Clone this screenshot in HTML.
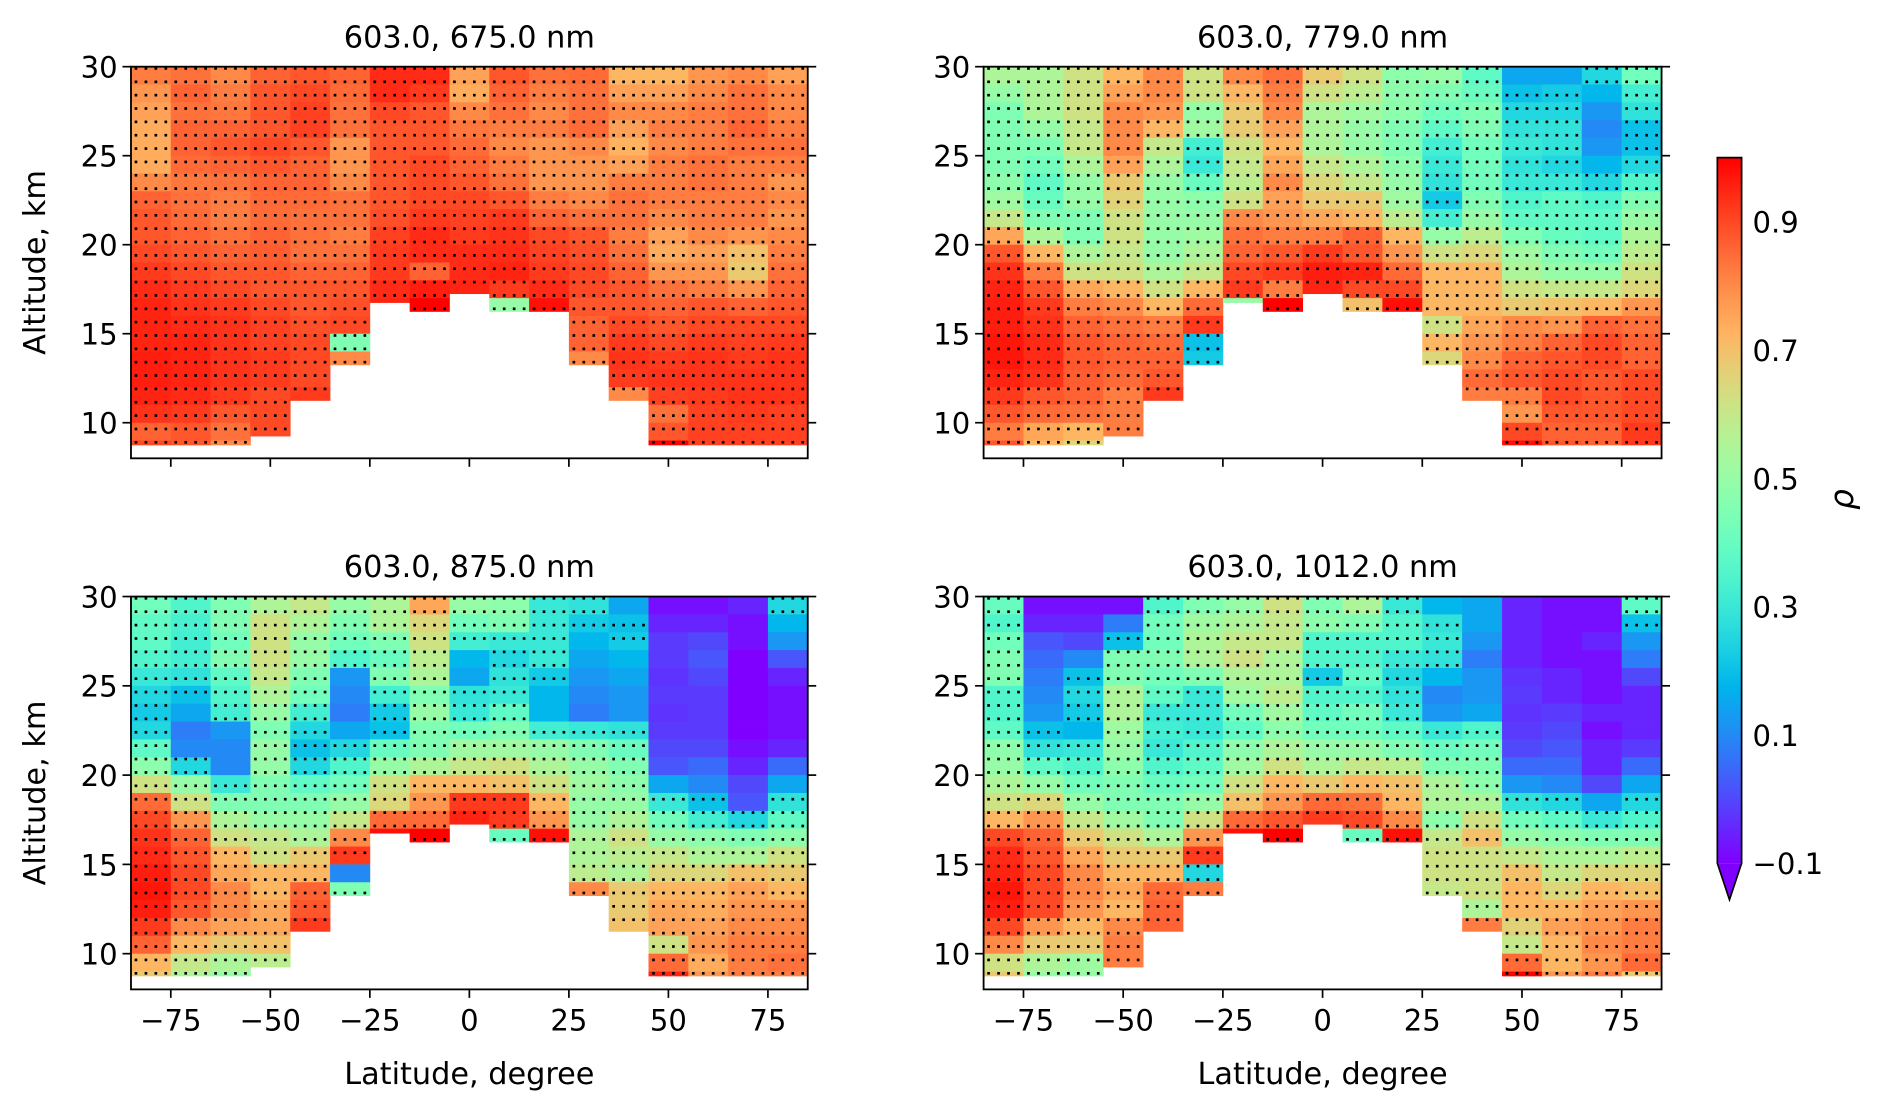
<!DOCTYPE html>
<html><head><meta charset="utf-8"><style>
html,body{margin:0;padding:0;background:#fff;}
svg{display:block;font-family:"DejaVu Sans","Liberation Sans",sans-serif;}
</style></head><body>
<svg id="fig" xmlns="http://www.w3.org/2000/svg" width="1892" height="1107" viewBox="0 0 1560 913" preserveAspectRatio="none">
<defs>
<linearGradient id="cbgrad" x1="0" y1="1" x2="0" y2="0"></linearGradient>
</defs>
<g id="layer"></g>
</svg>
<script>
// ---- data ----
const latitudes = [-80,-70,-60,-50,-40,-30,-20,-10,0,10,20,30,40,50,60,70,80];
const columnBottoms = [8.75,8.75,8.75,9.25,11.25,13.25,16.75,16.25,17.25,16.25,16.25,13.25,11.25,8.75,8.75,8.75,8.75];
const xTicks = [-75,-50,-25,0,25,50,75];
const yTicks = [10,15,20,25,30];
const cbTicks = [0.9,0.7,0.5,0.3,0.1,-0.1];
const panelTitles = ["603.0, 675.0 nm","603.0, 779.0 nm","603.0, 875.0 nm","603.0, 1012.0 nm"];
// each column: rho from 30 km downward in 1 km rows
const rho675 = [
[0.82,0.78,0.76,0.74,0.74,0.74,0.8,0.86,0.88,0.88,0.9,0.92,0.94,0.95,0.95,0.95,0.96,0.96,0.95,0.93,0.86,0.9],
[0.84,0.86,0.84,0.86,0.86,0.85,0.83,0.84,0.85,0.86,0.88,0.9,0.92,0.93,0.94,0.95,0.95,0.95,0.94,0.92,0.88,0.88],
[0.8,0.82,0.83,0.86,0.88,0.86,0.84,0.82,0.82,0.84,0.86,0.88,0.9,0.92,0.93,0.93,0.93,0.93,0.92,0.88,0.84,0.8],
[0.86,0.88,0.88,0.88,0.9,0.88,0.86,0.85,0.85,0.86,0.87,0.88,0.88,0.9,0.91,0.91,0.92,0.92,0.9,0.9,0.9],
[0.88,0.9,0.91,0.91,0.88,0.86,0.86,0.85,0.84,0.84,0.84,0.86,0.88,0.88,0.89,0.9,0.9,0.9,0.92],
[0.86,0.85,0.84,0.84,0.78,0.78,0.8,0.84,0.84,0.82,0.84,0.86,0.88,0.89,0.9,0.45,0.8],
[0.94,0.94,0.9,0.88,0.88,0.88,0.88,0.88,0.89,0.91,0.92,0.92,0.94,0.95],
[0.94,0.92,0.88,0.88,0.88,0.9,0.9,0.9,0.92,0.94,0.94,0.86,0.96,1.0],
[0.76,0.74,0.8,0.83,0.85,0.86,0.88,0.9,0.91,0.92,0.94,0.94,0.95],
[0.88,0.86,0.84,0.82,0.8,0.82,0.84,0.88,0.92,0.93,0.94,0.95,0.92,0.5],
[0.84,0.82,0.8,0.82,0.78,0.78,0.78,0.82,0.86,0.9,0.91,0.92,0.94,0.98],
[0.85,0.84,0.84,0.85,0.8,0.78,0.78,0.8,0.84,0.88,0.89,0.9,0.9,0.88,0.86,0.86,0.8],
[0.72,0.76,0.8,0.76,0.73,0.76,0.82,0.84,0.84,0.82,0.84,0.86,0.88,0.88,0.9,0.92,0.93,0.92,0.8],
[0.72,0.76,0.8,0.82,0.8,0.82,0.82,0.82,0.8,0.76,0.74,0.78,0.84,0.86,0.88,0.9,0.92,0.93,0.91,0.84,0.88,1.0],
[0.78,0.8,0.82,0.82,0.82,0.84,0.84,0.82,0.82,0.8,0.76,0.78,0.82,0.88,0.9,0.92,0.93,0.93,0.92,0.91,0.91,0.91],
[0.8,0.84,0.84,0.86,0.84,0.82,0.82,0.82,0.82,0.78,0.7,0.68,0.78,0.86,0.9,0.91,0.92,0.93,0.93,0.92,0.91,0.91],
[0.76,0.8,0.8,0.82,0.84,0.82,0.78,0.8,0.78,0.8,0.82,0.84,0.86,0.88,0.9,0.92,0.93,0.93,0.93,0.91,0.91,0.91]];
const rho779 = [
[0.55,0.5,0.45,0.45,0.45,0.45,0.48,0.52,0.6,0.75,0.88,0.93,0.95,0.96,0.96,0.97,0.97,0.95,0.92,0.88,0.82,0.88],
[0.55,0.55,0.55,0.5,0.45,0.42,0.38,0.4,0.45,0.55,0.72,0.82,0.88,0.92,0.93,0.94,0.94,0.93,0.88,0.85,0.75,0.72],
[0.62,0.62,0.62,0.6,0.6,0.55,0.5,0.5,0.45,0.45,0.55,0.62,0.75,0.82,0.86,0.88,0.88,0.87,0.86,0.84,0.72,0.65],
[0.72,0.76,0.8,0.8,0.8,0.76,0.68,0.66,0.62,0.62,0.6,0.62,0.72,0.8,0.84,0.86,0.86,0.85,0.82,0.82,0.82],
[0.8,0.8,0.78,0.72,0.6,0.55,0.5,0.5,0.5,0.5,0.5,0.55,0.62,0.72,0.82,0.85,0.86,0.88,0.92],
[0.62,0.62,0.5,0.52,0.32,0.3,0.4,0.48,0.5,0.52,0.55,0.6,0.72,0.85,0.92,0.2,0.22],
[0.8,0.72,0.68,0.68,0.62,0.6,0.58,0.62,0.8,0.84,0.86,0.9,0.92,0.5],
[0.84,0.82,0.8,0.76,0.72,0.75,0.8,0.76,0.78,0.82,0.88,0.92,0.82,1.0],
[0.68,0.62,0.55,0.55,0.55,0.6,0.65,0.68,0.75,0.82,0.92,0.96,0.95],
[0.62,0.58,0.52,0.5,0.5,0.55,0.6,0.68,0.72,0.86,0.88,0.95,0.9,0.7],
[0.48,0.48,0.48,0.45,0.45,0.48,0.5,0.52,0.58,0.72,0.78,0.85,0.9,0.98],
[0.5,0.45,0.42,0.38,0.32,0.3,0.28,0.22,0.32,0.5,0.62,0.72,0.72,0.72,0.62,0.72,0.65],
[0.38,0.4,0.45,0.45,0.42,0.42,0.42,0.45,0.5,0.58,0.65,0.72,0.72,0.72,0.75,0.78,0.8,0.85,0.82],
[0.15,0.2,0.25,0.28,0.3,0.28,0.3,0.35,0.38,0.45,0.52,0.55,0.62,0.68,0.8,0.82,0.86,0.88,0.82,0.78,0.9,0.98],
[0.15,0.22,0.25,0.28,0.28,0.25,0.3,0.38,0.38,0.4,0.45,0.5,0.6,0.7,0.78,0.86,0.88,0.9,0.9,0.88,0.86,0.88],
[0.25,0.18,0.12,0.1,0.12,0.18,0.25,0.35,0.38,0.38,0.42,0.5,0.6,0.72,0.86,0.9,0.9,0.88,0.88,0.88,0.86,0.86],
[0.42,0.32,0.28,0.2,0.2,0.25,0.35,0.45,0.5,0.55,0.58,0.62,0.65,0.78,0.84,0.86,0.86,0.9,0.9,0.9,0.92,0.92]];
const rho875 = [
[0.42,0.38,0.38,0.35,0.3,0.25,0.22,0.25,0.38,0.48,0.62,0.85,0.9,0.93,0.94,0.96,0.97,0.96,0.92,0.86,0.72,0.68],
[0.35,0.33,0.32,0.32,0.28,0.2,0.15,0.08,0.1,0.25,0.5,0.62,0.78,0.86,0.88,0.9,0.9,0.88,0.8,0.72,0.6,0.55],
[0.45,0.45,0.42,0.45,0.38,0.35,0.32,0.12,0.1,0.1,0.3,0.45,0.55,0.62,0.72,0.75,0.8,0.8,0.76,0.68,0.55,0.5],
[0.55,0.62,0.62,0.62,0.6,0.55,0.5,0.45,0.5,0.5,0.45,0.45,0.5,0.6,0.62,0.72,0.72,0.75,0.75,0.7,0.58],
[0.6,0.55,0.5,0.5,0.45,0.42,0.32,0.25,0.2,0.25,0.38,0.45,0.5,0.55,0.68,0.72,0.86,0.88,0.92],
[0.5,0.45,0.42,0.35,0.12,0.1,0.08,0.15,0.25,0.35,0.42,0.5,0.6,0.8,0.92,0.1,0.45],
[0.55,0.55,0.45,0.4,0.45,0.32,0.22,0.2,0.4,0.5,0.62,0.65,0.85,0.98],
[0.75,0.65,0.62,0.58,0.55,0.45,0.5,0.45,0.45,0.55,0.72,0.78,0.85,1.0],
[0.5,0.42,0.32,0.18,0.15,0.28,0.3,0.42,0.52,0.6,0.72,0.92,0.95],
[0.48,0.45,0.3,0.25,0.28,0.3,0.38,0.45,0.52,0.62,0.7,0.92,0.92,0.4],
[0.3,0.3,0.3,0.3,0.22,0.18,0.18,0.32,0.5,0.55,0.62,0.72,0.78,0.98],
[0.28,0.22,0.18,0.15,0.12,0.1,0.08,0.3,0.45,0.5,0.52,0.5,0.5,0.55,0.55,0.58,0.8],
[0.15,0.2,0.22,0.18,0.15,0.12,0.12,0.28,0.4,0.45,0.48,0.5,0.55,0.62,0.58,0.55,0.68,0.68,0.7],
[-0.08,-0.05,-0.02,-0.02,-0.03,-0.02,-0.03,-0.02,0.0,0.02,0.15,0.3,0.42,0.5,0.6,0.65,0.72,0.75,0.76,0.62,0.85,0.95],
[-0.08,-0.05,0.0,0.02,0.0,-0.02,-0.02,-0.02,0.0,0.05,0.1,0.2,0.32,0.48,0.55,0.65,0.72,0.74,0.76,0.78,0.74,0.78],
[-0.05,-0.08,-0.08,-0.1,-0.1,-0.1,-0.1,-0.1,-0.08,-0.05,0.0,0.02,0.25,0.45,0.55,0.7,0.76,0.78,0.8,0.82,0.82,0.82],
[0.25,0.18,0.12,0.02,-0.05,-0.08,-0.08,-0.08,-0.05,0.05,0.15,0.28,0.38,0.48,0.62,0.68,0.72,0.78,0.8,0.82,0.84,0.82]];
const rho1012 = [
[0.4,0.35,0.42,0.45,0.45,0.35,0.35,0.38,0.48,0.5,0.55,0.62,0.72,0.9,0.94,0.95,0.97,0.96,0.9,0.8,0.62,0.68],
[-0.08,-0.05,0.02,0.05,0.08,0.1,0.12,0.2,0.28,0.38,0.5,0.65,0.78,0.86,0.88,0.9,0.9,0.9,0.78,0.68,0.55,0.5],
[-0.08,-0.05,0.0,0.1,0.2,0.25,0.22,0.18,0.3,0.35,0.42,0.5,0.6,0.68,0.75,0.8,0.8,0.78,0.72,0.68,0.52,0.5],
[-0.08,0.08,0.2,0.45,0.45,0.55,0.55,0.52,0.5,0.48,0.45,0.45,0.52,0.62,0.68,0.72,0.75,0.72,0.8,0.82,0.82],
[0.35,0.42,0.42,0.45,0.42,0.38,0.3,0.32,0.3,0.35,0.4,0.45,0.45,0.55,0.68,0.72,0.85,0.86,0.86],
[0.45,0.52,0.55,0.55,0.45,0.3,0.3,0.3,0.35,0.38,0.42,0.5,0.62,0.78,0.92,0.25,0.82],
[0.5,0.55,0.6,0.62,0.55,0.52,0.42,0.38,0.48,0.52,0.62,0.7,0.85,0.98],
[0.62,0.6,0.6,0.55,0.55,0.58,0.52,0.48,0.55,0.62,0.72,0.78,0.88,1.0],
[0.45,0.48,0.35,0.35,0.22,0.35,0.38,0.42,0.5,0.55,0.68,0.85,0.92],
[0.55,0.45,0.35,0.35,0.38,0.35,0.42,0.42,0.5,0.6,0.72,0.84,0.9,0.4],
[0.3,0.35,0.35,0.3,0.25,0.28,0.3,0.38,0.45,0.58,0.7,0.72,0.8,0.98],
[0.18,0.28,0.3,0.28,0.18,0.1,0.12,0.3,0.4,0.45,0.55,0.55,0.48,0.6,0.62,0.62,0.6],
[0.15,0.15,0.12,0.08,0.12,0.12,0.15,0.35,0.42,0.45,0.48,0.55,0.62,0.7,0.62,0.62,0.62,0.55,0.82],
[-0.05,-0.05,-0.05,-0.05,-0.03,-0.02,-0.03,-0.02,0.0,0.05,0.12,0.28,0.42,0.5,0.6,0.7,0.72,0.72,0.66,0.6,0.85,1.0],
[-0.08,-0.08,-0.08,-0.08,-0.05,-0.05,-0.02,0.0,0.02,0.05,0.1,0.25,0.38,0.48,0.55,0.6,0.65,0.72,0.76,0.72,0.72,0.78],
[-0.08,-0.08,-0.05,-0.08,-0.08,-0.08,-0.05,-0.08,-0.05,-0.05,0.0,0.15,0.3,0.45,0.55,0.65,0.72,0.76,0.78,0.8,0.78,0.82],
[0.38,0.2,0.12,0.08,0.0,-0.05,-0.05,-0.05,-0.02,0.05,0.15,0.25,0.35,0.45,0.58,0.65,0.7,0.78,0.82,0.82,0.85,0.68]];
const panelData = [rho675, rho779, rho875, rho1012];

// ---- layout ----
const NS = "http://www.w3.org/2000/svg";
const layer = document.getElementById('layer');
const panels = [
 {x0:108,x1:666,y0:55,y1:378,xl:false,yl:true},
 {x0:811,x1:1370,y0:55,y1:378,xl:false,yl:false},
 {x0:108,x1:666,y0:492,y1:816,xl:true,yl:true},
 {x0:811,x1:1370,y0:492,y1:816,xl:true,yl:false}];
const VMIN=-0.1, VMAX=1.0, LATMIN=-85, LATMAX=85, ALTMIN=8, ALTMAX=30;

function mk(tag, attrs, parent){
  const e=document.createElementNS(NS,tag);
  for(const k in attrs) e.setAttribute(k,attrs[k]);
  (parent||layer).appendChild(e); return e;
}
function rainbow(v){
  let x=(v-VMIN)/(VMAX-VMIN); x=Math.max(0,Math.min(1,x));
  const r=Math.min(1,Math.abs(2*x-0.5)), g=Math.sin(Math.PI*x), b=Math.cos(Math.PI*x/2);
  return `rgb(${Math.round(r*255)},${Math.round(Math.max(0,g)*255)},${Math.round(Math.max(0,b)*255)})`;
}

panels.forEach((p,pi)=>{
  const sx=lat=>p.x0+(lat-LATMIN)/(LATMAX-LATMIN)*(p.x1-p.x0);
  const sy=alt=>p.y0+(ALTMAX-alt)/(ALTMAX-ALTMIN)*(p.y1-p.y0);
  const g=mk('g',{});
  
  
  const data=panelData[pi];
  const valAt=(ci,alt)=>{
    if(alt<columnBottoms[ci]) return null;
    const col=data[ci]; let r=Math.floor(30-alt); if(r<0)r=0;
    return r<col.length?col[r]:col[col.length-1];
  };
  latitudes.forEach((lat,ci)=>{
    const col=data[ci]; const bot=columnBottoms[ci];
    for(let r=0;r<22;r++){
      const top=30-r; let b=Math.max(29-r,bot); if(r===21) b=bot;
      if(top<=bot) break;
      const v=r<col.length?col[r]:col[col.length-1];
      const c=mk('rect',{x:sx(lat-5),y:sy(top),width:sx(lat+5)-sx(lat-5)+0.3,height:sy(b)-sy(top)+0.3,fill:rainbow(v)},g);
      
      
    }
  });
  // significance dots
  const dg=mk('g',{fill:'#000'},g);
  
  
  latitudes.forEach((lat,ci)=>{
    for(let k=0;k<4;k++){
      const lx=lat-5+(k+0.5)*2.5;
      for(let a=29.9;a>8.8;a-=0.75){
        const v=valAt(ci,a);
        if(v===null||v<0.2) continue;
        mk('rect',{x:sx(lx)-1.1,y:sy(a)-1.1,width:2.2,height:2.2},dg);
      }
    }
  });
  // frame
  const fr=mk('rect',{x:p.x0,y:p.y0,width:p.x1-p.x0,height:p.y1-p.y0,fill:'none',stroke:'#000','stroke-width':1.5});
  
  
  // y ticks
  yTicks.forEach(t=>{
    const y=sy(t);
    mk('line',{x1:p.x0-7,x2:p.x0,y1:y,y2:y,stroke:'#000','stroke-width':1.4});
    mk('line',{x1:p.x1,x2:p.x1+7,y1:y,y2:y,stroke:'#000','stroke-width':1.4});
    const tl=mk('text',{x:p.x0-11,y:y+9,'text-anchor':'end','font-size':24});
    tl.textContent=String(t);
    
    
  });
  xTicks.forEach(t=>{
    const x=sx(t);
    mk('line',{x1:x,x2:x,y1:p.y1,y2:p.y1+7,stroke:'#000','stroke-width':1.4});
    if(p.xl){
      const tl=mk('text',{x:x,y:p.y1+34,'text-anchor':'middle','font-size':24});
      tl.textContent=(t<0?'\u2212'+(-t):String(t));
      
      
    }
  });
  const tt=mk('text',{x:(p.x0+p.x1)/2,y:p.y0-16,'text-anchor':'middle','font-size':25});
  tt.textContent=panelTitles[pi];
  
  
  if(p.yl){
    const cy=(p.y0+p.y1)/2;
    const yl=mk('text',{x:0,y:0,'text-anchor':'middle','font-size':25,transform:`translate(37,${cy}) rotate(-90)`});
    yl.textContent='Altitude, km';
    
    
  }
  if(p.xl){
    const xl=mk('text',{x:(p.x0+p.x1)/2,y:p.y1+78,'text-anchor':'middle','font-size':25});
    xl.textContent='Latitude, degree';
    
    
  }
});

// ---- colorbar ----
const grad=document.getElementById('cbgrad');
for(let i=0;i<=20;i++){
  const v=VMIN+(VMAX-VMIN)*i/20;
  mk('stop',{offset:(i/20),'stop-color':rainbow(v)},grad);
}
const CB={x0:1416,x1:1436,top:130,bot:712,tip:742};
const cy=v=>CB.bot-(v-VMIN)/(VMAX-VMIN)*(CB.bot-CB.top);
const cb=mk('rect',{x:CB.x0,y:CB.top,width:CB.x1-CB.x0,height:CB.bot-CB.top,fill:'url(#cbgrad)'});


const tri=mk('polygon',{points:`${CB.x0},${CB.bot} ${CB.x1},${CB.bot} ${(CB.x0+CB.x1)/2},${CB.tip}`,fill:rainbow(VMIN)});


mk('path',{d:`M${CB.x0},${CB.bot} L${CB.x0},${CB.top} L${CB.x1},${CB.top} L${CB.x1},${CB.bot} L${(CB.x0+CB.x1)/2},${CB.tip} Z`,fill:'none',stroke:'#000','stroke-width':1.4});
cbTicks.forEach(t=>{
  const y=cy(t);
  const tl=mk('text',{x:1445,y:y+9,'font-size':24});
  tl.textContent=(t<0?'\u2212'+(-t).toFixed(1):t.toFixed(1));
  
  
});
const rl=mk('text',{x:0,y:0,'text-anchor':'middle','font-size':27,'font-style':'italic',transform:'translate(1528,412) rotate(-90)'});
rl.textContent='ρ';


</script>
</body></html>
